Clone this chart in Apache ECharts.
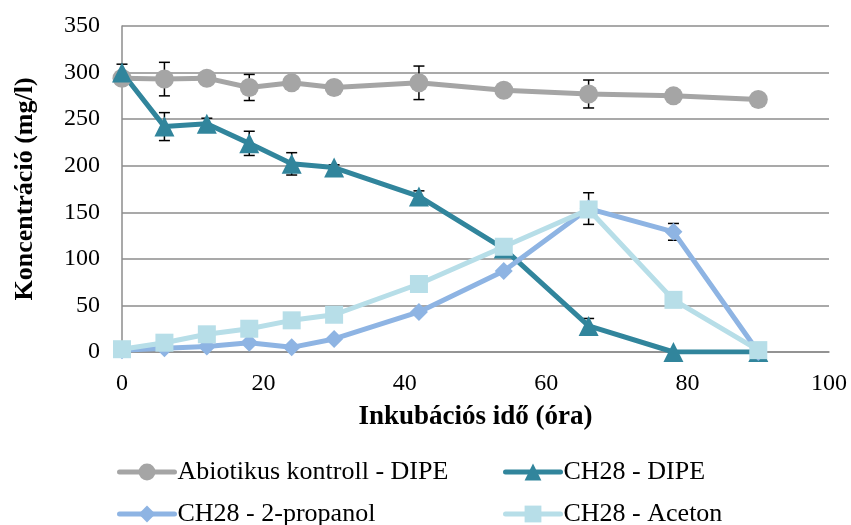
<!DOCTYPE html>
<html>
<head>
<meta charset="utf-8">
<script src="https://cdn.jsdelivr.net/npm/echarts@6/dist/echarts.min.js"></script>
<style>
  html, body { margin: 0; padding: 0; background: #fff; }
  #chart { width: 851px; height: 525px; }
</style>
</head>
<body>
<div id="chart"></div>
<script>
// Incubation time (hours)
var hours = [0, 6, 12, 18, 24, 30, 42, 54, 66, 78, 90];

// Concentrations (mg/l)
var abioticDipe = [294, 293, 294, 284, 289, 284, 289, 281, 277, 275, 271];
var ch28Dipe = [300, 242, 245, 224, 202, 198, 167, 111, 28, 0, 0];
var ch28Propanol = [2, 4, 6, 10, 5, 14, 43, 87, 154, 129, 0];
var ch28Aceton = [3, 10, 19, 25, 34, 40, 73, 113, 153, 56, 2];

// Standard deviations (mg/l)
var abioticDipeErr = [0, 18, 0, 14, 0, 0, 18, 0, 15, 0, 0];
var ch28DipeErr = [9, 15, 6, 13, 12, 3, 6, 0, 8, 0, 0];
var ch28PropanolErr = [0, 0, 0, 0, 0, 0, 0, 0, 17, 9, 0];

var seriesNames = ['Abiotikus kontroll - DIPE', 'CH28 - DIPE', 'CH28 - 2-propanol', 'CH28 - Aceton'];
var xTicks = [0, 20, 40, 60, 80, 100];
var yTicks = [0, 50, 100, 150, 200, 250, 300, 350];

var FONT = '"Liberation Serif", "Times New Roman", serif';

function pairs(xs, ys) {
  return xs.map(function (x, i) { return [x, ys[i]]; });
}

function errorData(xs, ys, errs) {
  var out = [];
  xs.forEach(function (x, i) {
    if (errs[i] > 0) out.push([x, ys[i] - errs[i], ys[i] + errs[i]]);
  });
  return out;
}

// Vertical whiskers with caps, drawn beneath the markers
function errorSeries(name, data) {
  return {
    name: name + ' SD',
    type: 'custom',
    z: 1,
    silent: true,
    data: data,
    encode: { x: 0, y: [1, 2] },
    renderItem: function (params, api) {
      var lo = api.coord([api.value(0), api.value(1)]);
      var hi = api.coord([api.value(0), api.value(2)]);
      var half = 5.5;
      var style = { stroke: '#000', lineWidth: 1.5 };
      return {
        type: 'group',
        children: [
          { type: 'line', shape: { x1: lo[0], y1: lo[1], x2: hi[0], y2: hi[1] }, style: style },
          { type: 'line', shape: { x1: hi[0] - half, y1: hi[1], x2: hi[0] + half, y2: hi[1] }, style: style },
          { type: 'line', shape: { x1: lo[0] - half, y1: lo[1], x2: lo[0] + half, y2: lo[1] }, style: style }
        ]
      };
    }
  };
}

function lineSeries(name, ys, color, symbol, size) {
  return {
    name: name,
    type: 'line',
    z: 3,
    data: pairs(hours, ys),
    symbol: symbol,
    symbolSize: size,
    showAllSymbol: true,
    lineStyle: { color: color, width: 5, cap: 'round' },
    itemStyle: { color: color },
    emphasis: { disabled: true },
    animation: false
  };
}

function legendItem(name, left, top) {
  return {
    left: left, top: top, padding: 0,
    itemWidth: 55, itemHeight: 21,
    data: [name],
    selectedMode: false,
    lineStyle: { width: 5, cap: 'round' },
    textStyle: { fontFamily: FONT, fontSize: 26, color: '#000', padding: [0, 0, 0, -2] }
  };
}

var option = {
  animation: false,
  grid: { left: 122, right: 22, top: 26, bottom: 173 },
  legend: [
    legendItem(seriesNames[0], 117, 459),
    legendItem(seriesNames[1], 503, 459),
    legendItem(seriesNames[2], 117, 501),
    legendItem(seriesNames[3], 503, 501)
  ],
  xAxis: {
    type: 'value', min: xTicks[0], max: xTicks[xTicks.length - 1], interval: 20,
    name: 'Inkubációs idő (óra)', nameLocation: 'middle', nameGap: 52,
    nameTextStyle: { fontFamily: FONT, fontSize: 27, fontWeight: 'bold', color: '#000' },
    axisLine: { show: true, lineStyle: { color: '#8c8c8c', width: 1.5 } },
    axisTick: { show: false },
    splitLine: { show: false },
    axisLabel: { fontFamily: FONT, fontSize: 24, color: '#000', margin: 20 }
  },
  yAxis: {
    type: 'value', min: yTicks[0], max: yTicks[yTicks.length - 1], interval: 50,
    name: 'Koncentráció (mg/l)', nameLocation: 'middle', nameGap: 84, nameRotate: 90,
    nameTextStyle: { fontFamily: FONT, fontSize: 26, fontWeight: 'bold', color: '#000' },
    axisLine: { show: true, lineStyle: { color: '#8c8c8c', width: 1.5 } },
    axisTick: { show: false },
    splitLine: { show: true, lineStyle: { color: '#8c8c8c', width: 1.5 } },
    axisLabel: { fontFamily: FONT, fontSize: 24, color: '#000', margin: 22 }
  },
  series: [
    errorSeries(seriesNames[0], errorData(hours, abioticDipe, abioticDipeErr)),
    errorSeries(seriesNames[1], errorData(hours, ch28Dipe, ch28DipeErr)),
    errorSeries(seriesNames[2], errorData(hours, ch28Propanol, ch28PropanolErr)),
    lineSeries(seriesNames[0], abioticDipe, '#a5a5a5', 'circle', 19),
    lineSeries(seriesNames[1], ch28Dipe, '#31859c', 'triangle', 20),
    lineSeries(seriesNames[2], ch28Propanol, '#8eb4e3', 'diamond', 18),
    lineSeries(seriesNames[3], ch28Aceton, '#b7dee8', 'rect', 18)
  ]
};

var chart = echarts.init(document.getElementById('chart'), null, { renderer: 'canvas' });
chart.setOption(option);
</script>
</body>
</html>
